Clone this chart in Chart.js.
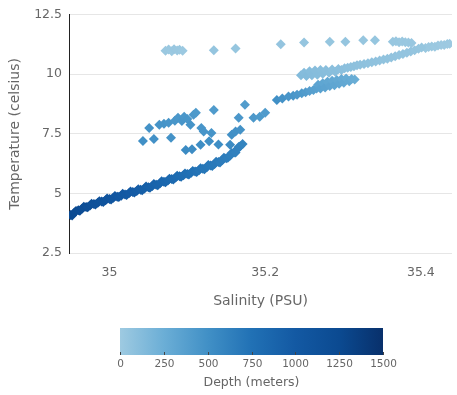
<!DOCTYPE html>
<html>
<head>
<meta charset="utf-8">
<script src="https://cdn.jsdelivr.net/npm/chart.js@4.4.1/dist/chart.umd.min.js"></script>
<style>
  html, body { margin: 0; padding: 0; background: #fff; }
  #wrap { width: 457px; height: 395px; position: relative; }
</style>
</head>
<body>
<div id="wrap"><canvas id="chartTS"></canvas></div>
<script>
// surface layer, top row of points
const surfSal = [35.072, 35.076, 35.080, 35.083, 35.087, 35.090, 35.094, 35.134, 35.162, 35.220,
  35.250, 35.283, 35.303, 35.326, 35.341, 35.364, 35.368, 35.372, 35.376, 35.380, 35.384, 35.388,
  35.406, 35.410, 35.414, 35.418, 35.422, 35.426, 35.430, 35.434, 35.437];
const surfTemp = [10.98, 11.03, 10.96, 11.04, 10.99, 11.02, 10.98, 11.0, 11.08, 11.25,
  11.33, 11.36, 11.36, 11.42, 11.42, 11.36, 11.38, 11.34, 11.37, 11.34, 11.33, 11.31,
  11.1, 11.14, 11.16, 11.15, 11.2, 11.22, 11.22, 11.26, 11.27];
const surfDepth = [15, 20, 10, 25, 15, 20, 10, 45, 40, 50,
  45, 40, 45, 35, 40, 30, 25, 30, 20, 25, 20, 30,
  20, 15, 20, 10, 15, 10, 5, 10, 5];

// light upper branch
const upperSal = [35.246, 35.250, 35.253, 35.257, 35.260, 35.264, 35.267, 35.271, 35.274, 35.278,
  35.282, 35.286, 35.290, 35.294, 35.298, 35.302, 35.306, 35.310, 35.314, 35.318,
  35.322, 35.327, 35.332, 35.337, 35.342, 35.347, 35.352, 35.357, 35.362, 35.367,
  35.372, 35.377, 35.382, 35.387, 35.392, 35.397, 35.401];
const upperTemp = [9.95, 10.06, 9.92, 10.12, 9.96, 10.15, 9.98, 10.17, 10.02, 10.18,
  10.06, 10.2, 10.1, 10.22, 10.18, 10.25, 10.27, 10.3, 10.33, 10.37,
  10.4, 10.43, 10.46, 10.5, 10.53, 10.57, 10.61, 10.65, 10.7, 10.75,
  10.8, 10.85, 10.9, 10.95, 11.0, 11.06, 11.12];
const upperDepth = [130, 125, 130, 120, 125, 115, 120, 110, 115, 105,
  110, 100, 105, 100, 95, 95, 90, 90, 85, 85,
  80, 80, 75, 75, 70, 70, 65, 65, 60, 60,
  55, 55, 50, 50, 45, 45, 40];

// middle branch
const midSal = [35.215, 35.222, 35.230, 35.236, 35.241, 35.247, 35.252, 35.257, 35.262, 35.266,
  35.268, 35.271, 35.274, 35.277, 35.280, 35.283, 35.286, 35.289, 35.292, 35.295,
  35.298, 35.301, 35.304, 35.308, 35.311, 35.315];
const midTemp = [8.92, 8.98, 9.06, 9.1, 9.14, 9.2, 9.24, 9.3, 9.34, 9.4,
  9.56, 9.4, 9.62, 9.44, 9.68, 9.5, 9.72, 9.54, 9.76, 9.6,
  9.8, 9.64, 9.82, 9.7, 9.8, 9.78];
const midDepth = [500, 480, 460, 450, 430, 420, 400, 380, 370, 360,
  330, 350, 320, 340, 310, 330, 300, 320, 290, 310,
  280, 300, 270, 290, 270, 260];

// scattered intrusion points
const scatSal = [35.043, 35.051, 35.057, 35.064, 35.070, 35.076, 35.079, 35.084, 35.088, 35.093,
  35.096, 35.100, 35.104, 35.108, 35.111, 35.118, 35.121, 35.131, 35.134, 35.098,
  35.106, 35.117, 35.128, 35.140, 35.155, 35.157, 35.162, 35.168, 35.166, 35.174,
  35.185, 35.193, 35.200];
const scatTemp = [7.2, 7.75, 7.28, 7.88, 7.92, 7.96, 7.34, 8.05, 8.17, 8.04,
  8.22, 8.12, 7.88, 8.3, 8.38, 7.75, 7.6, 7.54, 8.5, 6.82,
  6.85, 7.04, 7.19, 7.05, 7.04, 7.46, 7.6, 7.67, 8.17, 8.72,
  8.17, 8.22, 8.38];
const scatDepth = [500, 480, 490, 470, 470, 460, 480, 450, 440, 460,
  440, 450, 470, 430, 420, 460, 460, 470, 410, 540,
  530, 520, 510, 520, 540, 500, 490, 480, 440, 400,
  430, 420, 410];

// deep water, main curve
const deepSal = [34.950, 34.952, 34.955, 34.957, 34.960, 34.962, 34.965, 34.967, 34.970, 34.972,
  34.975, 34.977, 34.980, 34.982, 34.985, 34.987, 34.990, 34.992, 34.995, 34.997,
  35.000, 35.002, 35.005, 35.007, 35.010, 35.012, 35.015, 35.017, 35.020, 35.022,
  35.025, 35.027, 35.030, 35.032, 35.035, 35.037, 35.040, 35.042, 35.045, 35.047,
  35.050, 35.052, 35.055, 35.057, 35.060, 35.062, 35.065, 35.067, 35.070, 35.072,
  35.075, 35.077, 35.080, 35.082, 35.085, 35.087, 35.090, 35.092, 35.095, 35.097,
  35.100, 35.102, 35.105, 35.107, 35.110, 35.112, 35.115, 35.117, 35.120, 35.122,
  35.125, 35.127, 35.130, 35.132, 35.135, 35.137, 35.140, 35.142, 35.145, 35.147,
  35.150, 35.152, 35.155, 35.157, 35.160, 35.162, 35.164, 35.166, 35.168, 35.171];
const deepTemp = [4.1, 4.08, 4.2, 4.27, 4.3, 4.28, 4.37, 4.45, 4.44, 4.42,
  4.5, 4.57, 4.56, 4.54, 4.61, 4.68, 4.67, 4.65, 4.72, 4.79,
  4.77, 4.75, 4.82, 4.9, 4.87, 4.85, 4.91, 4.99, 4.96, 4.94,
  5.01, 5.09, 5.06, 5.04, 5.11, 5.18, 5.16, 5.14, 5.21, 5.29,
  5.26, 5.24, 5.32, 5.4, 5.37, 5.35, 5.43, 5.51, 5.49, 5.47,
  5.55, 5.62, 5.61, 5.59, 5.67, 5.74, 5.72, 5.7, 5.77, 5.84,
  5.82, 5.8, 5.87, 5.94, 5.92, 5.9, 5.98, 6.06, 6.04, 6.02,
  6.1, 6.2, 6.17, 6.15, 6.24, 6.33, 6.32, 6.3, 6.4, 6.5,
  6.48, 6.5, 6.59, 6.7, 6.72, 6.72, 6.85, 6.95, 6.98, 7.08];
const deepDepth = [1260, 1250, 1240, 1230, 1220, 1210, 1200, 1190, 1180, 1170,
  1160, 1150, 1140, 1130, 1120, 1110, 1100, 1090, 1080, 1075,
  1065, 1060, 1050, 1045, 1035, 1030, 1020, 1015, 1005, 1000,
  990, 985, 975, 970, 960, 955, 945, 940, 930, 925,
  915, 910, 900, 895, 885, 880, 870, 865, 855, 850,
  840, 835, 825, 820, 810, 805, 795, 790, 780, 775,
  765, 760, 750, 745, 735, 730, 720, 715, 710, 705,
  700, 695, 690, 685, 680, 675, 670, 665, 660, 655,
  650, 645, 640, 635, 630, 625, 620, 615, 610, 600];

const xTicks = [35, 35.2, 35.4];
const yTicks = [2.5, 5, 7.5, 10, 12.5];
const depthTicks = [0, 250, 500, 750, 1000, 1250, 1500];
const depthColors = ['#9ecae1', '#6baed6', '#4190c6', '#2171b5', '#1359a3', '#0b4a91', '#08306b'];

function hexToRgb(h) {
  const n = parseInt(h.slice(1), 16);
  return [(n >> 16) & 255, (n >> 8) & 255, n & 255];
}

function depthColor(d) {
  const maxD = depthTicks[depthTicks.length - 1];
  const t = Math.max(0, Math.min(1, d / maxD)) * (depthColors.length - 1);
  const i = Math.min(Math.floor(t), depthColors.length - 2);
  const f = t - i;
  const a = hexToRgb(depthColors[i]);
  const b = hexToRgb(depthColors[i + 1]);
  const c = a.map((v, k) => Math.round(v + (b[k] - v) * f));
  return `rgb(${c[0]}, ${c[1]}, ${c[2]})`;
}

const groups = [
  [surfSal, surfTemp, surfDepth],
  [upperSal, upperTemp, upperDepth],
  [midSal, midTemp, midDepth],
  [scatSal, scatTemp, scatDepth],
  [deepSal, deepTemp, deepDepth]
];
const points = [];
groups.forEach(([sal, temp, depth]) => {
  sal.forEach((s, i) => points.push({ x: s, y: temp[i], depth: depth[i] }));
});

const textColor = '#666';
const fontFamily = '"DejaVu Sans", sans-serif';

const colorBar = {
  id: 'colorBar',
  afterDraw(chart) {
    const ctx = chart.ctx;
    const left = 120, right = 383, top = 328, bottom = 355;
    const grad = ctx.createLinearGradient(left, 0, right, 0);
    depthColors.forEach((c, i) => grad.addColorStop(i / (depthColors.length - 1), c));
    ctx.save();
    ctx.fillStyle = grad;
    ctx.fillRect(left, top, right - left, bottom - top);

    const maxD = depthTicks[depthTicks.length - 1];
    ctx.strokeStyle = '#444';
    ctx.lineWidth = 1;
    ctx.font = '10.5px ' + fontFamily;
    ctx.fillStyle = textColor;
    ctx.textAlign = 'center';
    ctx.textBaseline = 'middle';
    depthTicks.forEach(d => {
      const x = Math.round(left + (right - left) * d / maxD) + 0.5;
      ctx.beginPath();
      ctx.moveTo(x, bottom - 3);
      ctx.lineTo(x, bottom);
      ctx.stroke();
      ctx.fillText(String(d), x, 364);
    });
    ctx.font = '12.5px ' + fontFamily;
    ctx.fillText('Depth (meters)', (left + right) / 2, 383);
    ctx.restore();
  }
};

new Chart(document.getElementById('chartTS'), {
  type: 'scatter',
  data: {
    datasets: [{
      label: 'Depth',
      data: points,
      pointStyle: 'rectRot',
      pointRadius: 5,
      pointBorderWidth: 0,
      backgroundColor: ctx => ctx.raw ? depthColor(ctx.raw.depth) : '#2171b5',
      borderColor: 'rgba(0,0,0,0)'
    }]
  },
  options: {
    responsive: true,
    maintainAspectRatio: false,
    animation: false,
    layout: { padding: { left: 3, right: 3, top: 6, bottom: 81 } },
    plugins: {
      legend: { display: false },
      tooltip: { enabled: false }
    },
    scales: {
      x: {
        type: 'linear',
        min: 34.948,
        max: 35.44,
        afterBuildTicks: scale => { scale.ticks = xTicks.map(v => ({ value: v })); },
        grid: { display: false, drawTicks: false },
        border: { display: false },
        ticks: {
          color: textColor,
          padding: 12,
          font: { family: fontFamily, size: 12.5 },
          callback: v => String(v)
        },
        title: {
          display: true,
          text: 'Salinity (PSU)',
          color: textColor,
          font: { family: fontFamily, size: 14 },
          padding: { top: 1, bottom: 4 }
        }
      },
      y: {
        min: 2.5,
        max: 12.5,
        afterBuildTicks: scale => { scale.ticks = yTicks.map(v => ({ value: v })); },
        afterFit: scale => { scale.width = 66; },
        grid: { color: '#e6e6e6', drawTicks: false },
        border: { display: true, color: '#222', width: 1 },
        ticks: {
          color: textColor,
          padding: 7,
          font: { family: fontFamily, size: 12.5 },
          callback: v => String(v)
        },
        title: {
          display: true,
          text: 'Temperature (celsius)',
          color: textColor,
          font: { family: fontFamily, size: 14 },
          padding: { top: 4, bottom: 4 }
        }
      }
    }
  },
  plugins: [colorBar]
});
</script>
</body>
</html>
